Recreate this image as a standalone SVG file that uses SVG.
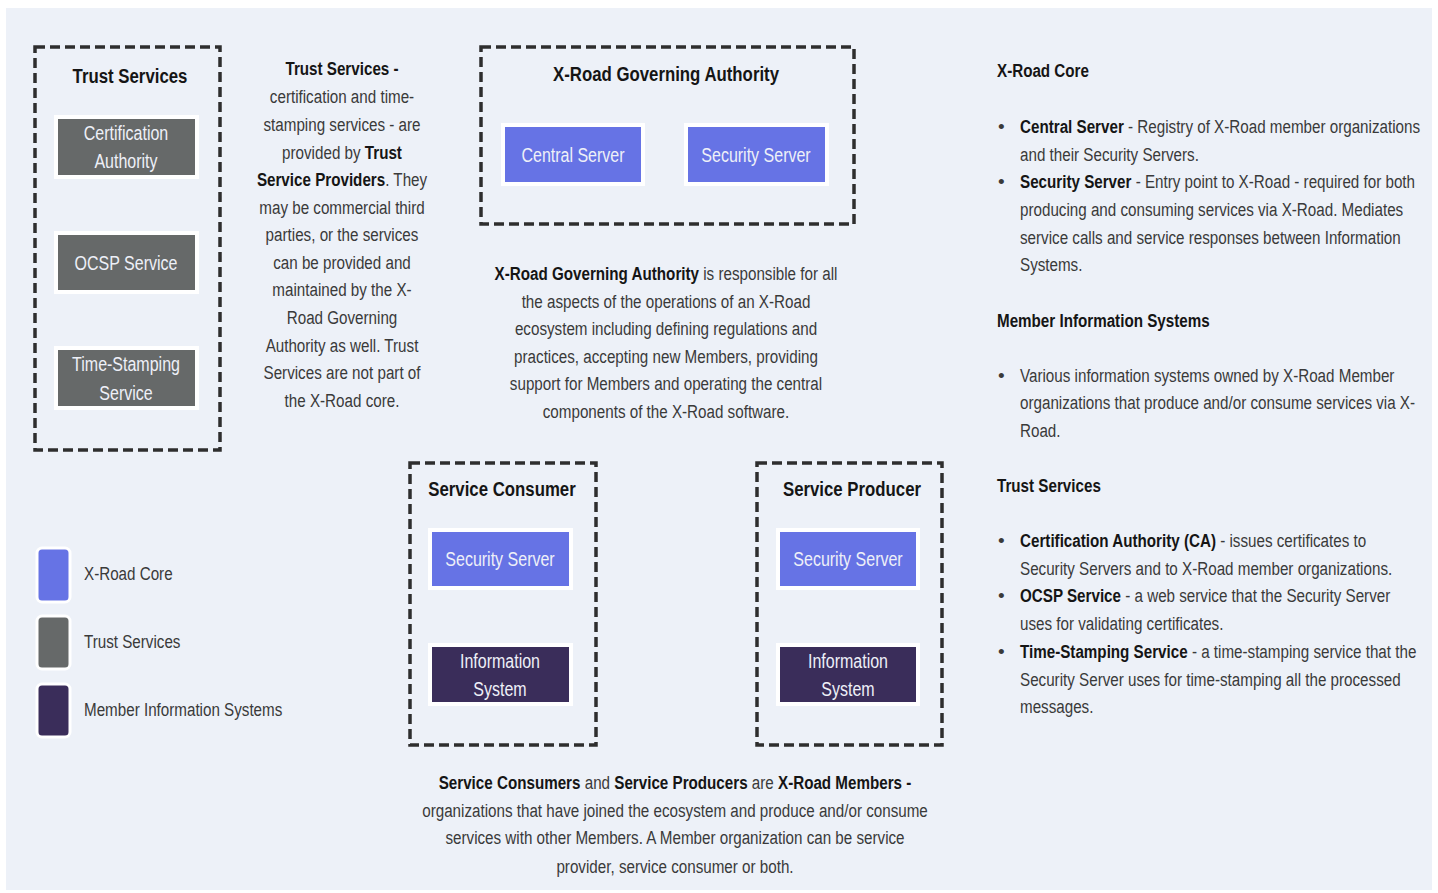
<svg xmlns="http://www.w3.org/2000/svg" width="1438" height="893" viewBox="0 0 1438 893">
<style>
.t{font-family:"Liberation Sans",Arial,sans-serif;font-size:19px;fill:#3a3a3a}
.b{font-weight:bold;fill:#151515}
.h{font-family:"Liberation Sans",Arial,sans-serif;font-size:21px;font-weight:bold;fill:#151515}
.lbl{font-family:"Liberation Sans",Arial,sans-serif;font-size:20px;fill:#eef0f8;text-anchor:middle}
.c{text-anchor:middle}
.dash{fill:none;stroke:#2e2e2e;stroke-width:3.5;stroke-dasharray:10 5}
.blue{fill:#6673e5;stroke:#fff;stroke-width:4}
.gray{fill:#666969;stroke:#fff;stroke-width:4}
.purple{fill:#3a2d5a;stroke:#fff;stroke-width:4}
</style>
<rect x="0" y="0" width="1438" height="893" fill="#fff"/>
<rect x="6" y="8" width="1426" height="882" fill="#edf1f8"/>

<g id="trust-services">
<rect class="dash" x="35" y="47" width="185" height="403"/>
<g transform="translate(130 0) scale(0.8 1)"><text class="h c" x="0" y="83">Trust Services</text></g>
<g id="ca"><rect class="gray" x="56" y="117" width="141" height="60"/>
<g transform="translate(126 0) scale(0.8 1)"><text class="lbl" x="0" y="140">Certification</text><text class="lbl" x="0" y="168">Authority</text></g></g>
<g id="ocsp"><rect class="gray" x="56" y="233" width="141" height="59"/>
<g transform="translate(126 0) scale(0.8 1)"><text class="lbl" x="0" y="270">OCSP Service</text></g></g>
<g id="tss"><rect class="gray" x="56" y="348" width="141" height="60"/>
<g transform="translate(126 0) scale(0.8 1)"><text class="lbl" x="0" y="371">Time-Stamping</text><text class="lbl" x="0" y="400">Service</text></g></g>
</g>

<g id="trust-text" transform="translate(342 0) scale(0.8 1)">
<text class="t c" x="0" y="75"><tspan class="b">Trust Services -</tspan></text>
<text class="t c" x="0" y="103">certification and time-</text>
<text class="t c" x="0" y="131">stamping services - are</text>
<text class="t c" x="0" y="159">provided by <tspan class="b">Trust</tspan></text>
<text class="t c" x="0" y="186"><tspan class="b">Service Providers</tspan>. They</text>
<text class="t c" x="0" y="214">may be commercial third</text>
<text class="t c" x="0" y="241">parties, or the services</text>
<text class="t c" x="0" y="269">can be provided and</text>
<text class="t c" x="0" y="296">maintained by the X-</text>
<text class="t c" x="0" y="324">Road Governing</text>
<text class="t c" x="0" y="352">Authority as well. Trust</text>
<text class="t c" x="0" y="379">Services are not part of</text>
<text class="t c" x="0" y="407">the X-Road core.</text>
</g>

<g id="governing-authority">
<rect class="dash" x="481" y="47" width="373" height="177"/>
<g transform="translate(666 0) scale(0.8 1)"><text class="h c" x="0" y="81">X-Road Governing Authority</text></g>
<g id="central-server"><rect class="blue" x="503" y="125" width="140" height="59"/>
<g transform="translate(573 0) scale(0.8 1)"><text class="lbl" x="0" y="162">Central Server</text></g></g>
<g id="ga-security-server"><rect class="blue" x="686" y="125" width="141" height="59"/>
<g transform="translate(756 0) scale(0.8 1)"><text class="lbl" x="0" y="162">Security Server</text></g></g>
</g>

<g id="ga-text" transform="translate(666 0) scale(0.8 1)">
<text class="t c" x="0" y="280"><tspan class="b">X-Road Governing Authority</tspan> is responsible for all</text>
<text class="t c" x="0" y="308">the aspects of the operations of an X-Road</text>
<text class="t c" x="0" y="335">ecosystem including defining regulations and</text>
<text class="t c" x="0" y="363">practices, accepting new Members, providing</text>
<text class="t c" x="0" y="390">support for Members and operating the central</text>
<text class="t c" x="0" y="418">components of the X-Road software.</text>
</g>

<g id="service-consumer">
<rect class="dash" x="410" y="463" width="186" height="282"/>
<g transform="translate(502 0) scale(0.8 1)"><text class="h c" x="0" y="496">Service Consumer</text></g>
<g id="sc-security-server"><rect class="blue" x="430" y="530" width="141" height="58"/>
<g transform="translate(500 0) scale(0.8 1)"><text class="lbl" x="0" y="566">Security Server</text></g></g>
<g id="sc-information-system"><rect class="purple" x="430" y="645" width="141" height="59"/>
<g transform="translate(500 0) scale(0.8 1)"><text class="lbl" x="0" y="668">Information</text><text class="lbl" x="0" y="696">System</text></g></g>
</g>

<g id="service-producer">
<rect class="dash" x="757" y="463" width="185" height="282"/>
<g transform="translate(852 0) scale(0.8 1)"><text class="h c" x="0" y="496">Service Producer</text></g>
<g id="sp-security-server"><rect class="blue" x="778" y="530" width="140" height="58"/>
<g transform="translate(848 0) scale(0.8 1)"><text class="lbl" x="0" y="566">Security Server</text></g></g>
<g id="sp-information-system"><rect class="purple" x="778" y="645" width="140" height="59"/>
<g transform="translate(848 0) scale(0.8 1)"><text class="lbl" x="0" y="668">Information</text><text class="lbl" x="0" y="696">System</text></g></g>
</g>

<g id="members-text" transform="translate(675 0) scale(0.8 1)">
<text class="t c" x="0" y="789"><tspan class="b">Service Consumers</tspan> and <tspan class="b">Service Producers</tspan> are <tspan class="b">X-Road Members -</tspan></text>
<text class="t c" x="0" y="817">organizations that have joined the ecosystem and produce and/or consume</text>
<text class="t c" x="0" y="844">services with other Members. A Member organization can be service</text>
<text class="t c" x="0" y="873">provider, service consumer or both.</text>
</g>

<g id="legend">
<rect x="37" y="548" width="33" height="54" rx="5" fill="#6673e5" stroke="#fff" stroke-width="3"/>
<rect x="37" y="616" width="33" height="53" rx="5" fill="#666969" stroke="#fff" stroke-width="3"/>
<rect x="37" y="684" width="33" height="53" rx="5" fill="#3a2d5a" stroke="#fff" stroke-width="3"/>
<g transform="translate(84 0) scale(0.8 1)">
<text class="t" x="0" y="580">X-Road Core</text>
<text class="t" x="0" y="648">Trust Services</text>
<text class="t" x="0" y="716">Member Information Systems</text>
</g>
</g>

<g id="right-column">
<g transform="translate(997 0) scale(0.8 1)">
<text class="t b" x="0" y="77">X-Road Core</text>
<text class="t b" x="0" y="327">Member Information Systems</text>
<text class="t b" x="0" y="492">Trust Services</text>
</g>
<g class="t">
<text x="998" y="133">•</text>
<text x="998" y="188">•</text>
<text x="998" y="382">•</text>
<text x="998" y="547">•</text>
<text x="998" y="602">•</text>
<text x="998" y="658">•</text>
</g>
<g transform="translate(1020 0) scale(0.8 1)">
<text class="t" x="0" y="133"><tspan class="b">Central Server</tspan> - Registry of X-Road member organizations</text>
<text class="t" x="0" y="161">and their Security Servers.</text>
<text class="t" x="0" y="188"><tspan class="b">Security Server</tspan> - Entry point to X-Road - required for both</text>
<text class="t" x="0" y="216">producing and consuming services via X-Road. Mediates</text>
<text class="t" x="0" y="244">service calls and service responses between Information</text>
<text class="t" x="0" y="271">Systems.</text>
<text class="t" x="0" y="382">Various information systems owned by X-Road Member</text>
<text class="t" x="0" y="409">organizations that produce and/or consume services via X-</text>
<text class="t" x="0" y="437">Road.</text>
<text class="t" x="0" y="547"><tspan class="b">Certification Authority (CA)</tspan> - issues certificates to</text>
<text class="t" x="0" y="575">Security Servers and to X-Road member organizations.</text>
<text class="t" x="0" y="602"><tspan class="b">OCSP Service</tspan> - a web service that the Security Server</text>
<text class="t" x="0" y="630">uses for validating certificates.</text>
<text class="t" x="0" y="658"><tspan class="b">Time-Stamping Service</tspan> - a time-stamping service that the</text>
<text class="t" x="0" y="686">Security Server uses for time-stamping all the processed</text>
<text class="t" x="0" y="713">messages.</text>
</g>
</g>
</svg>
